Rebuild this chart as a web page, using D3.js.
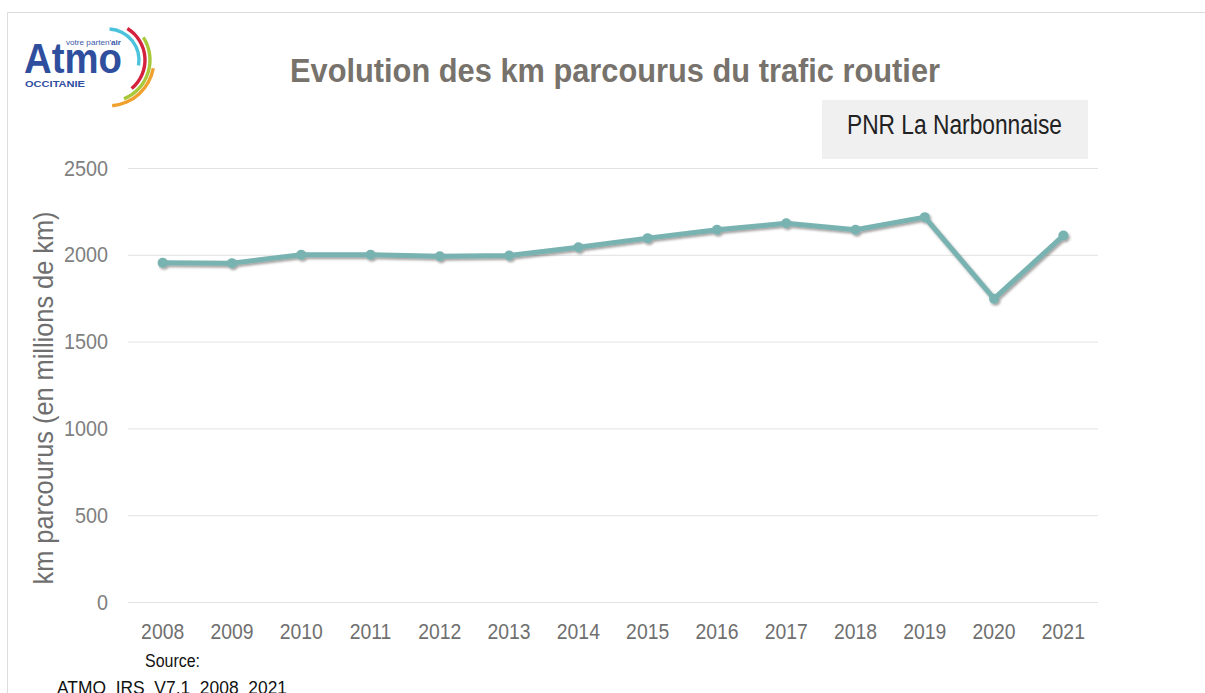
<!DOCTYPE html>
<html>
<head>
<meta charset="utf-8">
<script src="https://cdn.jsdelivr.net/npm/d3@7"></script>
<style>
  body { margin: 0; background: #fff; }
  svg { display: block; font-family: "Liberation Sans", Arial, sans-serif; }
</style>
</head>
<body>
<div id="contenedor"></div>
<script>
// donnees
annees = ["2008","2009","2010","2011","2012","2013","2014","2015","2016","2017","2018","2019","2020","2021"]
kmParcourus = [1954, 1952, 2000, 2000, 1992, 1996, 2044, 2096, 2144, 2182, 2144, 2217, 1747, 2111]
ticksY = [0, 500, 1000, 1500, 2000, 2500]

ancho = 1205
alto = 693

svg = d3.select("#contenedor")
    .append("svg")
    .attr("width", ancho)
    .attr("height", alto)

// police etroite simulee : on comprime le texte en largeur
function comprimer(sel, facteur) {
    sel.each(function() {
        var l = this.getComputedTextLength()
        d3.select(this).attr("textLength", l * facteur).attr("lengthAdjust", "spacingAndGlyphs")
    })
}

// ombre de la ligne
defs = svg.append("defs")
filtre = defs.append("filter").attr("id", "ombre")
    .attr("x", "-5%").attr("y", "-20%").attr("width", "110%").attr("height", "140%")
filtre.append("feDropShadow")
    .attr("dx", 1.5).attr("dy", 2).attr("stdDeviation", 1.2)
    .attr("flood-color", "#3a3030").attr("flood-opacity", 0.45)

// cadre
svg.append("path")
    .attr("d", "M7.5," + alto + " V12.5 H" + ancho)
    .attr("fill", "none")
    .attr("stroke", "#dcdcdc")
    .attr("stroke-width", 1)

// logo Atmo
logo = svg.append("g")
logo.append("text")
    .attr("x", 24).attr("y", 73)
    .attr("font-size", 42).attr("font-weight", "bold")
    .attr("fill", "#2f4f9e")
    .attr("textLength", 98).attr("lengthAdjust", "spacingAndGlyphs")
    .text("Atmo")
logo.append("text")
    .attr("x", 66).attr("y", 45)
    .attr("font-size", 8).attr("fill", "#3a5aa8")
    .attr("textLength", 55).attr("lengthAdjust", "spacingAndGlyphs")
    .html('votre parten\'<tspan font-weight="bold">air</tspan>')
logo.append("text")
    .attr("x", 25).attr("y", 87)
    .attr("font-size", 9.5).attr("font-weight", "bold")
    .attr("fill", "#2f4f9e")
    .attr("textLength", 60).attr("lengthAdjust", "spacingAndGlyphs")
    .text("OCCITANIE")

arcs = [
    {r: 31, a0: 0.05, a1: 1.75, c: "#4cc3dc"},
    {r: 37, a0: 0.55, a1: 2.45, c: "#d4213d"},
    {r: 42, a0: 1.0, a1: 2.75, c: "#a8c83a"},
    {r: 46, a0: 1.75, a1: 3.05, c: "#f0a02c"}
]
generadorArco = d3.arc()
logo.selectAll("path.arco")
    .data(arcs)
    .enter()
    .append("path")
    .attr("class", "arco")
    .attr("transform", "translate(108,60)")
    .attr("fill", function(d) { return d.c })
    .attr("d", function(d) {
        return generadorArco({innerRadius: d.r - 1.7, outerRadius: d.r + 1.7, startAngle: d.a0, endAngle: d.a1, cornerRadius: 1.6})
    })

// titre
svg.append("text")
    .attr("x", 615).attr("y", 82)
    .attr("text-anchor", "middle")
    .attr("font-size", 33).attr("font-weight", "bold")
    .attr("fill", "#77726b")
    .attr("textLength", 650).attr("lengthAdjust", "spacingAndGlyphs")
    .text("Evolution des km parcourus du trafic routier")

// boite territoire
svg.append("rect")
    .attr("x", 822).attr("y", 100)
    .attr("width", 266).attr("height", 59)
    .attr("fill", "#f0f0f0")
svg.append("text")
    .attr("x", 847).attr("y", 134)
    .attr("font-size", 27).attr("fill", "#222")
    .attr("textLength", 215).attr("lengthAdjust", "spacingAndGlyphs")
    .text("PNR La Narbonnaise")

// echelles
margeG = 128
margeD = 1098

escalaX = d3.scaleBand()
    .domain(annees)
    .range([margeG, margeD])

escalaY = d3.scaleLinear()
    .domain([0, 2500])
    .range([602, 168])

// grille
ejeY = d3.axisLeft(escalaY)
    .tickValues(ticksY)
    .tickFormat(d3.format("d"))
    .tickSize(-(margeD - margeG))
    .tickPadding(20)

gY = svg.append("g")
    .attr("transform", "translate(" + margeG + ",0)")
    .call(ejeY)
gY.select(".domain").remove()
gY.selectAll(".tick line").attr("stroke", "#e2e2e2")
gY.selectAll(".tick text")
    .attr("font-size", 22).attr("fill", "#7f7f7f")
    .attr("font-family", "Liberation Sans, Arial, sans-serif")
    .call(comprimer, 0.9)

ejeX = d3.axisBottom(escalaX).tickSize(0).tickPadding(21)
gX = svg.append("g")
    .attr("transform", "translate(0,602)")
    .call(ejeX)
gX.select(".domain").remove()
gX.selectAll(".tick text")
    .attr("font-size", 22).attr("fill", "#6f6f6f")
    .attr("font-family", "Liberation Sans, Arial, sans-serif")
    .call(comprimer, 0.88)

// titre axe Y
svg.append("text")
    .attr("transform", "translate(53,398) rotate(-90)")
    .attr("text-anchor", "middle")
    .attr("font-size", 27).attr("fill", "#6f6f6f")
    .attr("textLength", 373).attr("lengthAdjust", "spacingAndGlyphs")
    .text("km parcourus (en millions de km)")

// ligne
linea = d3.line()
    .x(function(d, i) { return escalaX(annees[i]) + escalaX.bandwidth() / 2 })
    .y(function(d) { return escalaY(d) })

serie = svg.append("g").attr("filter", "url(#ombre)")
serie.append("path")
    .datum(kmParcourus)
    .attr("d", linea)
    .attr("fill", "none")
    .attr("stroke", "#79b3b1")
    .attr("stroke-width", 5)
    .attr("stroke-linejoin", "round")

serie.selectAll("circle")
    .data(kmParcourus)
    .enter()
    .append("circle")
    .attr("cx", function(d, i) { return escalaX(annees[i]) + escalaX.bandwidth() / 2 })
    .attr("cy", function(d) { return escalaY(d) })
    .attr("r", 5)
    .attr("fill", "#79b3b1")

// source
svg.append("text")
    .attr("x", 145).attr("y", 667)
    .attr("font-size", 18).attr("fill", "#111")
    .attr("textLength", 55).attr("lengthAdjust", "spacingAndGlyphs")
    .text("Source:")
svg.append("text")
    .attr("x", 57).attr("y", 694)
    .attr("font-size", 18).attr("fill", "#111")
    .attr("textLength", 230).attr("lengthAdjust", "spacingAndGlyphs")
    .text("ATMO_IRS_V7.1_2008_2021")
</script>
</body>
</html>
